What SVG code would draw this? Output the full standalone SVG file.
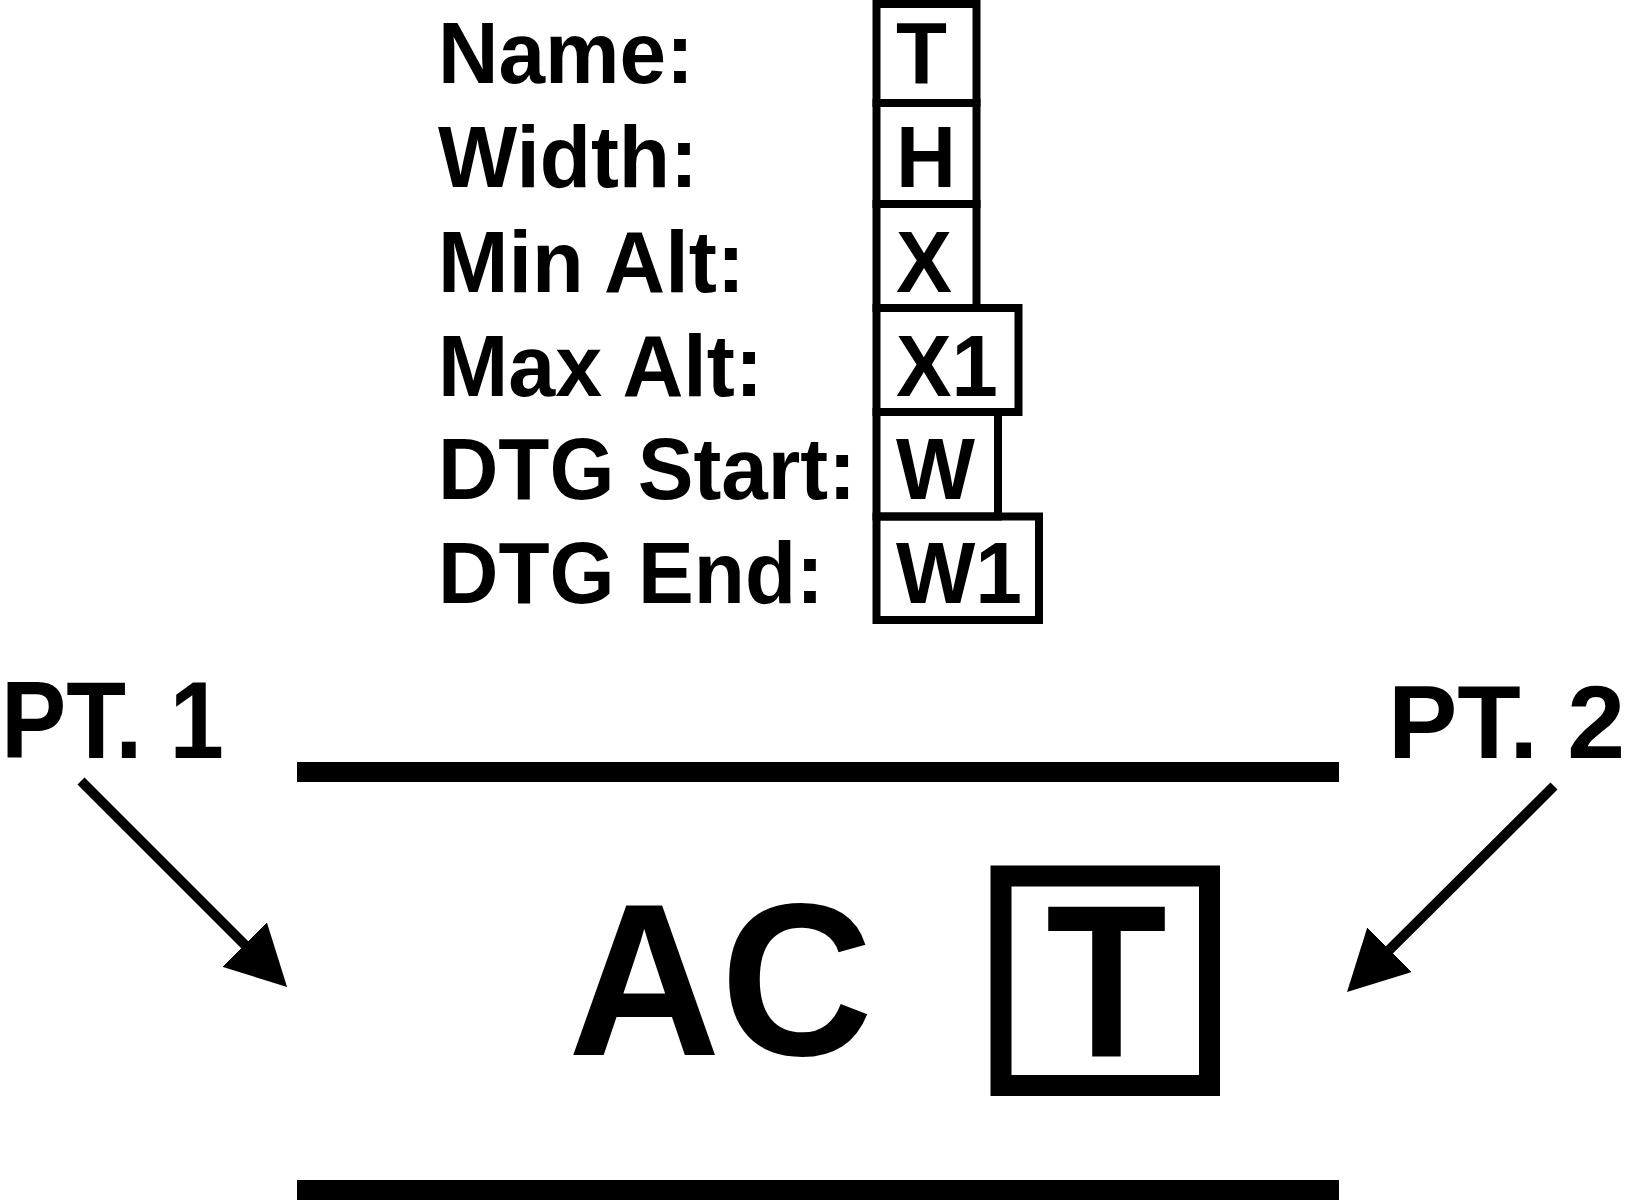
<svg xmlns="http://www.w3.org/2000/svg" width="1628" height="1200" viewBox="0 0 1628 1200">
<style>
.t{font-family:"Liberation Sans",Arial,sans-serif;font-weight:bold;fill:#000}
.lab{font-size:87px}
.pt{font-size:109px}
.big{font-size:218px}
.box{fill:none;stroke:#000;stroke-width:8}
.bar{stroke:#000;stroke-width:20;fill:none}
.arr{stroke:#000;stroke-width:10;fill:none}
</style>
<defs>
<marker id="ah" viewBox="0 0 60 63" markerWidth="60" markerHeight="63" refX="40" refY="31.5" orient="auto" markerUnits="userSpaceOnUse">
<path d="M0,0 L60,31.5 L0,63 z" fill="#000"/>
</marker>
</defs>
<rect width="1628" height="1200" fill="#fff"/>
<g id="labels" class="t lab">
<text x="438" y="83" textLength="256" lengthAdjust="spacingAndGlyphs">Name:</text>
<text x="438" y="187" textLength="260" lengthAdjust="spacingAndGlyphs">Width:</text>
<text x="438" y="292" textLength="307" lengthAdjust="spacingAndGlyphs">Min Alt:</text>
<text x="438" y="396" textLength="325" lengthAdjust="spacingAndGlyphs">Max Alt:</text>
<text x="438" y="499" textLength="418" lengthAdjust="spacingAndGlyphs">DTG Start:</text>
<text x="438" y="603" textLength="386" lengthAdjust="spacingAndGlyphs">DTG End:</text>
</g>
<g id="field-name"><rect class="box" x="876.5" y="4" width="100" height="99"/><text class="t lab" x="896" y="83" textLength="51" lengthAdjust="spacingAndGlyphs">T</text></g>
<g id="field-width"><rect class="box" x="876.5" y="103" width="100" height="101"/><text class="t lab" x="896" y="187" textLength="60" lengthAdjust="spacingAndGlyphs">H</text></g>
<g id="field-minalt"><rect class="box" x="876.5" y="204" width="100" height="104"/><text class="t lab" x="896" y="292" textLength="56" lengthAdjust="spacingAndGlyphs">X</text></g>
<g id="field-maxalt"><rect class="box" x="876.5" y="308" width="142" height="104"/><text class="t lab" x="896" y="396" textLength="102" lengthAdjust="spacingAndGlyphs">X1</text></g>
<g id="field-dtgstart"><rect class="box" x="876.5" y="412" width="121.5" height="104.5"/><text class="t lab" x="896" y="499" textLength="79" lengthAdjust="spacingAndGlyphs">W</text></g>
<g id="field-dtgend"><rect class="box" x="876.5" y="516.5" width="162.5" height="103.5"/><text class="t lab" x="896" y="603" textLength="126" lengthAdjust="spacingAndGlyphs">W1</text></g>
<g id="pt1"><text class="t pt" x="1" y="758" textLength="223" lengthAdjust="spacingAndGlyphs">PT. 1</text></g>
<g id="pt2"><text class="t" font-size="104" x="1625" y="758" text-anchor="end">PT. 2</text></g>
<g id="corridor">
<line class="bar" x1="297" y1="772" x2="1339" y2="772"/>
<line class="bar" x1="297" y1="1190" x2="1339" y2="1190"/>
</g>
<g id="symbol">
<text class="t big" x="568" y="1055" textLength="305" lengthAdjust="spacingAndGlyphs">AC</text>
<rect x="1001" y="876" width="208.5" height="209.5" fill="none" stroke="#000" stroke-width="21"/>
<text class="t big" x="1106.5" y="1056" text-anchor="middle" textLength="121" lengthAdjust="spacingAndGlyphs">T</text>
</g>
<g id="connectors">
<line class="arr" x1="81" y1="781" x2="272.9" y2="972.9" marker-end="url(#ah)"/>
<line class="arr" x1="1554" y1="786" x2="1361.2" y2="977.9" marker-end="url(#ah)"/>
</g>
</svg>
